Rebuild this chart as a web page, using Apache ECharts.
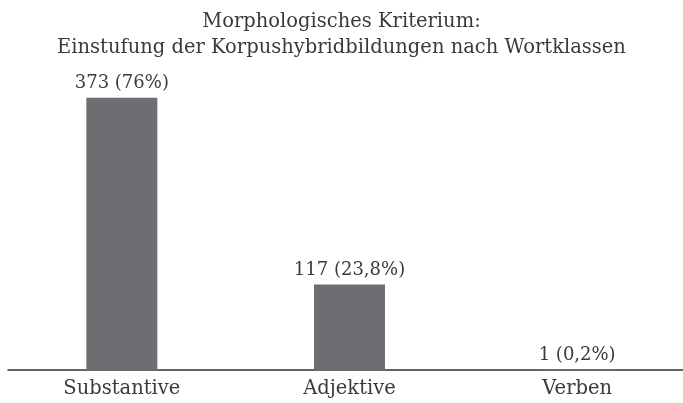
<!DOCTYPE html>
<html>
<head>
<meta charset="utf-8">
<script src="https://cdn.jsdelivr.net/npm/echarts@6/dist/echarts.min.js"></script>
<style>
  html, body { margin: 0; padding: 0; background: #fff; }
  #chart { width: 683px; height: 403px; }
</style>
</head>
<body>
<div id="chart"></div>
<script>
  // data
  var categories = ['Substantive', 'Adjektive', 'Verben']
  var counts = [373, 117, 1]
  var shares = ['76%', '23,8%', '0,2%']

  var serif = '"DejaVu Serif", "Liberation Serif", serif'
  var textColor = '#3a3a3a'

  var chart = echarts.init(document.getElementById('chart'))
  var option = {
    animation: false,
    title: {
      text: 'Morphologisches Kriterium:\nEinstufung der Korpushybridbildungen nach Wortklassen',
      left: 'center',
      top: 4,
      textStyle: {
        fontFamily: serif,
        fontWeight: 'normal',
        fontSize: 19.5,
        lineHeight: 26,
        color: textColor
      }
    },
    grid: {
      left: 8,
      width: 683,
      top: 78,
      bottom: 33,
      outerBoundsMode: 'none'
    },
    xAxis: {
      type: 'category',
      data: categories,
      axisTick: { show: false },
      axisLine: {
        lineStyle: { color: '#333', width: 1.5 }
      },
      axisLabel: {
        fontFamily: serif,
        fontSize: 19.5,
        color: textColor,
        margin: 9
      }
    },
    yAxis: {
      type: 'value',
      min: 0,
      max: 400,
      show: false,
      splitLine: { show: false }
    },
    series: [{
      type: 'bar',
      data: counts,
      barWidth: 71,
      itemStyle: {
        color: '#6d6e71'
      },
      label: {
        show: true,
        position: 'top',
        distance: 5,
        fontFamily: serif,
        fontSize: 18,
        color: textColor,
        formatter: function(p) {
          return p.value + ' (' + shares[p.dataIndex] + ')'
        }
      }
    }]
  }
  chart.setOption(option)
</script>
</body>
</html>
